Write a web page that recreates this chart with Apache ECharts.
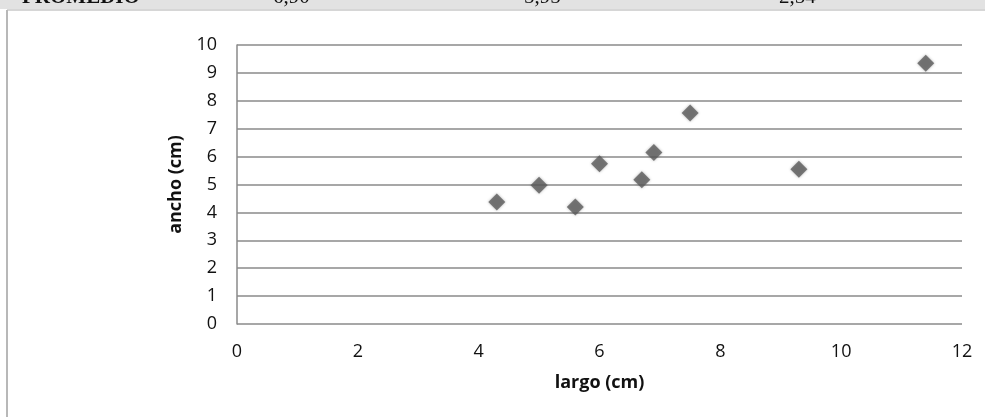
<!DOCTYPE html>
<html>
<head>
<meta charset="utf-8">
<script src="https://cdn.jsdelivr.net/npm/echarts@6/dist/echarts.min.js"></script>
<style>
html,body{margin:0;padding:0;background:#fff;}
#c{width:1005px;height:417px;}
</style>
</head>
<body>
<div id="c"></div>
<script>
var largo = [4.3, 5.0, 5.6, 6.0, 6.7, 6.9, 7.5, 9.3, 11.4];
var ancho = [4.37, 4.97, 4.19, 5.74, 5.17, 6.15, 7.56, 5.55, 9.35];
var headerLabels = ["PROMEDIO", "6,90", "5,95", "2,54"];
var xTitle = "largo (cm)";
var yTitle = "ancho (cm)";

var points = largo.map(function (x, i) { return [x, ancho[i]]; });

var chart = echarts.init(document.getElementById('c'), null, {renderer: 'canvas'});
chart.setOption({
  backgroundColor: '#ffffff',
  animation: false,
  grid: {left: 237, right: 43, top: 45, bottom: 93},
  xAxis: {
    type: 'value', min: 0, max: 12, interval: 2,
    name: xTitle, nameLocation: 'middle', nameGap: 50,
    nameTextStyle: {fontFamily: 'Open Sans', fontWeight: 'bold', fontSize: 18, color: '#111'},
    axisLine: {show: false},
    axisTick: {show: false},
    splitLine: {show: false},
    axisLabel: {fontFamily: 'Open Sans', fontSize: 18, color: '#111', margin: 19}
  },
  yAxis: {
    type: 'value', min: 0, max: 10, interval: 1,
    name: yTitle, nameLocation: 'middle', nameGap: 52, nameRotate: 90,
    nameTextStyle: {fontFamily: 'Open Sans', fontWeight: 'bold', fontSize: 18, color: '#111'},
    axisLine: {show: true, lineStyle: {color: '#8a8a8a', width: 1.5}},
    axisTick: {show: false},
    splitLine: {show: true, lineStyle: {color: '#8a8a8a', width: 1.5}},
    axisLabel: {fontFamily: 'Open Sans', fontSize: 18, color: '#111', margin: 20}
  },
  graphic: [
    {type: 'rect', shape: {x: 0, y: 0, width: 985, height: 9}, style: {fill: '#e2e2e2'}, silent: true},
    {type: 'line', shape: {x1: 7, y1: 10, x2: 985, y2: 10}, style: {stroke: '#c8c8c8', lineWidth: 1.5}, silent: true},
    {type: 'line', shape: {x1: 7, y1: 10, x2: 7, y2: 417}, style: {stroke: '#b8b8b8', lineWidth: 2}, silent: true},
    {type: 'text', left: 22, top: -13, style: {text: headerLabels[0], font: 'bold 21px "Liberation Serif"', fill: '#111'}, silent: true},
    {type: 'text', left: 273, top: -13, style: {text: headerLabels[1], font: '21px "Liberation Serif"', fill: '#111'}, silent: true},
    {type: 'text', left: 524, top: -13, style: {text: headerLabels[2], font: '21px "Liberation Serif"', fill: '#111'}, silent: true},
    {type: 'text', left: 779, top: -13, style: {text: headerLabels[3], font: '21px "Liberation Serif"', fill: '#111'}, silent: true}
  ],
  series: [{
    type: 'scatter',
    data: points,
    symbol: 'diamond',
    symbolSize: [17, 17],
    itemStyle: {color: '#5c5c5c', shadowBlur: 3, shadowColor: 'rgba(0,0,0,0.35)'}
  }]
});
</script>
</body>
</html>
